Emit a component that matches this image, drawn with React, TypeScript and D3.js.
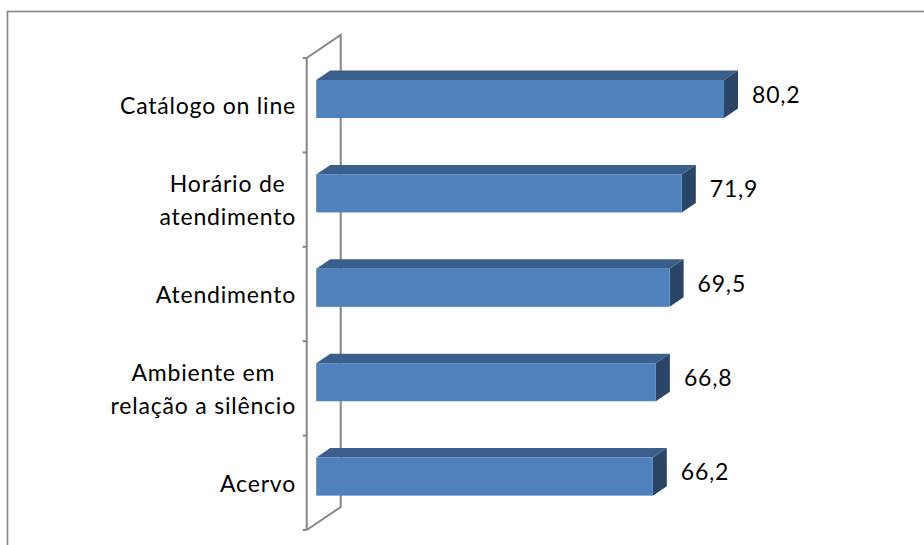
import React, { useEffect, useRef } from "react";
import * as d3 from "d3";

const categories: string[][] = [
  ["Catálogo on line"],
  ["Horário de", "atendimento"],
  ["Atendimento"],
  ["Ambiente em", "relação a silêncio"],
  ["Acervo"],
];
const values: number[] = [80.2, 71.9, 69.5, 66.8, 66.2];
const valueLabels: string[] = ["80,2", "71,9", "69,5", "66,8", "66,2"];

const W = 924;
const H = 545;
const FONT = "Lato, 'Open Sans', sans-serif";
const FS = 23;
const LS = 0.8;

export default function App() {
  const ref = useRef<SVGSVGElement | null>(null);

  useEffect(() => {
    const svg = d3.select(ref.current);
    svg.selectAll("*").remove();

    // Outer frame (extends beyond the visible area on right/bottom)
    svg
      .append("rect")
      .attr("x", 7.5)
      .attr("y", 11.5)
      .attr("width", 940)
      .attr("height", 560)
      .attr("fill", "white")
      .attr("stroke", "#878787")
      .attr("stroke-width", 1.6);

    const frontX = 306.7;
    const backX = 340.7;
    const wallDY = 23;
    const yTop = 58;
    const yBot = 530;

    const x = d3.scaleLinear().domain([0, 100]).range([316.2, 824.7]);
    const y = d3
      .scaleBand<number>()
      .domain(d3.range(categories.length))
      .range([yTop, yBot])
      .paddingInner(0)
      .paddingOuter(0);

    const bw = y.bandwidth();
    const depthX = 14;
    const depthY = 9.5;
    const barOffset = bw * 0.233;
    const barH = bw * 0.403;

    // Wall (3D axis)
    const wall = svg
      .append("g")
      .attr("fill", "none")
      .attr("stroke", "#878787")
      .attr("stroke-width", 2);
    wall
      .append("path")
      .attr(
        "d",
        `M${frontX},${yBot} L${frontX},${yTop} L${backX},${yTop - wallDY} L${backX},${yBot - wallDY} L${frontX},${yBot}`
      );
    const tickYs = [...y.domain().map((i) => y(i) as number), yBot];
    wall
      .selectAll("line.tick")
      .data(tickYs)
      .enter()
      .append("line")
      .attr("x1", frontX - 4)
      .attr("x2", frontX)
      .attr("y1", (d) => d)
      .attr("y2", (d) => d);

    // Bars
    const bars = svg
      .append("g")
      .selectAll("g.bar")
      .data(values)
      .enter()
      .append("g");

    bars.each(function (v, i) {
      const g = d3.select(this);
      const x0 = x(0);
      const x1 = x(v);
      const t = (y(i) as number) + barOffset;
      const b = t + barH;
      g.append("path")
        .attr(
          "d",
          `M${x0},${t} L${x0 + depthX},${t - depthY} L${x1 + depthX},${t - depthY} L${x1},${t} Z`
        )
        .attr("fill", "#3B5F8D");
      g.append("path")
        .attr(
          "d",
          `M${x1},${t} L${x1 + depthX},${t - depthY} L${x1 + depthX},${b - depthY} L${x1},${b} Z`
        )
        .attr("fill", "#2B4567");
      g.append("rect")
        .attr("x", x0)
        .attr("y", t)
        .attr("width", x1 - x0)
        .attr("height", barH)
        .attr("fill", "#4F81BD");
      g.append("text")
        .attr("x", x1 + depthX + 14)
        .attr("y", t - depthY / 2 + barH / 2 + 8.5)
        .attr("font-family", FONT)
        .attr("font-size", FS)
        .attr("letter-spacing", LS)
        .attr("fill", "#000")
        .text(valueLabels[i]);
    });

    // Category labels
    const labelRight = 296;
    const lineH = 33;
    categories.forEach((lines, i) => {
      const cy = (y(i) as number) + bw / 2;
      const g = svg.append("g");
      const texts = lines.map((ln, k) =>
        g
          .append("text")
          .attr("font-family", FONT)
          .attr("font-size", FS)
          .attr("letter-spacing", LS)
          .attr("fill", "#000")
          .attr("text-anchor", "middle")
          .attr("y", cy + 9 - ((lines.length - 1) * lineH) / 2 + k * lineH)
          .text(ln)
      );
      const widths = texts.map((t) => (t.node() as SVGTextElement).getComputedTextLength());
      const maxW = Math.max(...widths);
      texts.forEach((t) => t.attr("x", labelRight - maxW / 2));
    });
  }, []);

  return (
    <svg
      ref={ref}
      width={W}
      height={H}
      style={{ position: "absolute", left: 0, top: 0, background: "white" }}
    />
  );
}
